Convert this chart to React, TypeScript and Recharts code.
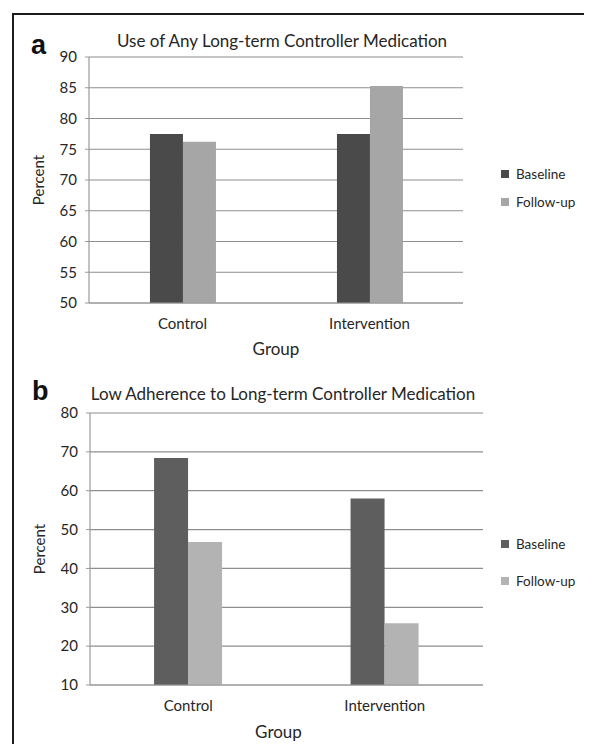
import React from 'react';
import { BarChart, Bar, XAxis, YAxis, CartesianGrid, Legend } from 'recharts';

const groups = ['Control', 'Intervention'];
const useBaseline = [77.5, 77.5];
const useFollowUp = [76.2, 85.3];
const lowBaseline = [68.4, 58.0];
const lowFollowUp = [46.8, 25.9];
const useTicks = [50, 55, 60, 65, 70, 75, 80, 85, 90];
const lowTicks = [10, 20, 30, 40, 50, 60, 70, 80];
const boundaryTicks = [0, 1, 2];
const titleA = 'Use of Any Long-term Controller Medication';
const titleB = 'Low Adherence to Long-term Controller Medication';
const xTitle = 'Group';
const yTitle = 'Percent';

const dataA = groups.map((g, i) => ({ group: g, Baseline: useBaseline[i], 'Follow-up': useFollowUp[i] }));
const dataB = groups.map((g, i) => ({ group: g, Baseline: lowBaseline[i], 'Follow-up': lowFollowUp[i] }));

const FONT = 'Lato, "Open Sans", sans-serif';
const TEXT = '#262626';
const GRID = '#8e8e8e';
const AXIS = '#9a9a9a';

const makeLegend = (rowH: number) => (props: any) => (
  <div style={{ fontFamily: FONT, fontSize: 13.5, color: TEXT }}>
    {(props.payload || []).map((p: any) => (
      <div key={p.value} style={{ display: 'flex', alignItems: 'center', height: rowH }}>
        <span style={{ display: 'inline-block', width: 8, height: 8, background: p.color, marginRight: 7 }} />
        <span>{p.value}</span>
      </div>
    ))}
  </div>
);

const makeYLabel = (dx: number) => (props: any) => {
  const vb = props.viewBox || {};
  const cx = vb.x + dx;
  const cy = vb.y + vb.height / 2;
  return (
    <text x={cx} y={cy} transform={`rotate(-90 ${cx} ${cy})`} textAnchor="middle" dominantBaseline="central"
      style={{ fontFamily: FONT, fontSize: 15, fill: TEXT }}>{yTitle}</text>
  );
};

const makeXLabel = (dx: number, dy: number) => (props: any) => {
  const vb = props.viewBox || {};
  const cx = vb.x + vb.width / 2 + dx;
  const cy = vb.y + dy;
  return (
    <text x={cx} y={cy} textAnchor="middle" dominantBaseline="central"
      style={{ fontFamily: FONT, fontSize: 17, fill: TEXT }}>{xTitle}</text>
  );
};

type PanelProps = {
  data: any[];
  ticks: number[];
  top: number;
  height: number;
  margin: { top: number; right: number; bottom: number; left: number };
  colors: [string, string];
  legendTop: number;
  legendRow: number;
  xLabelDx: number;
  xLabelDy: number;
};

const Panel = ({ data, ticks, top, height, margin, colors, legendTop, legendRow, xLabelDx, xLabelDy }: PanelProps) => (
  <div style={{ position: 'absolute', left: 0, top }}>
    <BarChart width={592} height={height} data={data} margin={margin} barGap={0} barCategoryGap="32.6%">
      <CartesianGrid vertical={false} stroke={GRID} strokeWidth={1.2} />
      <XAxis xAxisId="bd" type="number" domain={[0, 2]} ticks={boundaryTicks} tick={false} axisLine={false}
        tickLine={{ stroke: AXIS }} tickSize={5} height={0} allowDataOverflow />
      <XAxis dataKey="group" axisLine={{ stroke: AXIS, strokeWidth: 1.2 }} tickLine={false} tickSize={0} tickMargin={15}
        height={60} tick={{ fontFamily: FONT, fontSize: 15, fill: TEXT }}
        label={{ content: makeXLabel(xLabelDx, xLabelDy) }} />
      <YAxis domain={[ticks[0], ticks[ticks.length - 1]]} ticks={ticks} allowDataOverflow width={52}
        axisLine={{ stroke: AXIS, strokeWidth: 1.2 }} tickLine={{ stroke: AXIS }} tickSize={4} tickMargin={8}
        tick={{ fontFamily: FONT, fontSize: 15, fill: TEXT }}
        label={{ content: makeYLabel(1) }} />
      <Legend layout="vertical" align="center" verticalAlign="middle" content={makeLegend(legendRow)}
        wrapperStyle={{ position: 'absolute', left: 501, top: legendTop, width: 90 }} />
      <Bar dataKey="Baseline" fill={colors[0]} isAnimationActive={false} />
      <Bar dataKey="Follow-up" fill={colors[1]} isAnimationActive={false} />
    </BarChart>
  </div>
);

export default function App() {
  return (
    <div style={{ position: 'relative', margin: -8, width: 592, height: 752, background: '#fff', overflow: 'hidden', fontFamily: FONT }}>
      <div style={{ position: 'absolute', left: 12, top: 13, width: 600, height: 760, borderLeft: '2px solid #1c1c1c', borderTop: '2px solid #1c1c1c' }} />
      <div style={{ position: 'absolute', left: 31, top: 30, fontFamily: '"Liberation Sans", Arial, sans-serif', fontWeight: 'bold', fontSize: 27, color: '#111', lineHeight: '30px' }}>a</div>
      <div style={{ position: 'absolute', left: 32, top: 376, fontFamily: '"Liberation Sans", Arial, sans-serif', fontWeight: 'bold', fontSize: 27, color: '#111', lineHeight: '30px' }}>b</div>
      <div style={{ position: 'absolute', left: 0, width: 564, top: 31, textAlign: 'center', fontSize: 17, color: TEXT, lineHeight: '20px', whiteSpace: 'nowrap' }}>{titleA}</div>
      <div style={{ position: 'absolute', left: 0, width: 566, top: 384, textAlign: 'center', fontSize: 17, color: TEXT, lineHeight: '20px', whiteSpace: 'nowrap' }}>{titleB}</div>
      <Panel data={dataA} ticks={useTicks} top={0} height={370}
        margin={{ top: 57, right: 129, bottom: 7, left: 37 }}
        colors={['#4a4a4a', '#a6a6a6']} legendTop={160} legendRow={28} xLabelDx={0} xLabelDy={45} />
      <Panel data={dataB} ticks={lowTicks} top={370} height={382}
        margin={{ top: 43, right: 109, bottom: 7, left: 38 }}
        colors={['#5e5e5e', '#b3b3b3']} legendTop={155} legendRow={37} xLabelDx={-8} xLabelDy={46} />
    </div>
  );
}
